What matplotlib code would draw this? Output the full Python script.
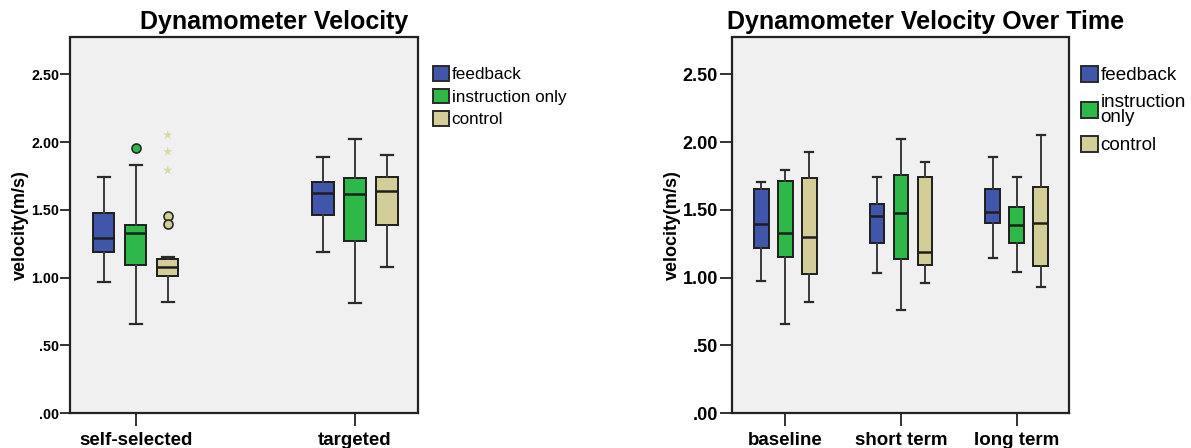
import matplotlib
matplotlib.use("Agg")
import matplotlib.pyplot as plt
from matplotlib.patches import Patch

plt.rcParams['font.family'] = ['Liberation Sans', 'DejaVu Sans']

# ---------------- data ----------------
SERIES = ['feedback', 'instruction only', 'control']
COLORS = ['#3F56AA', '#2EB848', '#D3CE97']

# Left chart: Dynamometer Velocity
L_GROUPS = ['self-selected', 'targeted']
# per series (feedback, instruction only, control), per group
L_WHISLO = [[0.97, 1.19], [0.66, 0.81], [0.82, 1.08]]
L_Q1     = [[1.19, 1.465], [1.09, 1.27], [1.01, 1.39]]
L_MED    = [[1.295, 1.625], [1.33, 1.62], [1.077, 1.637]]
L_Q3     = [[1.477, 1.704], [1.387, 1.738], [1.136, 1.745]]
L_WHISHI = [[1.74, 1.892], [1.83, 2.025], [1.155, 1.902]]
L_OUTLIERS = [[[], []], [[1.956], []], [[1.453, 1.398], []]]
L_EXTREMES = [[[], []], [[], []], [[2.052, 1.929, 1.792], []]]

# Right chart: Dynamometer Velocity Over Time
R_GROUPS = ['baseline', 'short term', 'long term']
R_WHISLO = [[0.973, 1.035, 1.148], [0.66, 0.76, 1.042], [0.823, 0.963, 0.929]]
R_Q1     = [[1.217, 1.254, 1.40], [1.155, 1.14, 1.258], [1.03, 1.092, 1.089]]
R_MED    = [[1.398, 1.457, 1.487], [1.33, 1.477, 1.386], [1.302, 1.192, 1.40]]
R_Q3     = [[1.654, 1.546, 1.654], [1.711, 1.757, 1.52], [1.733, 1.745, 1.667]]
R_WHISHI = [[1.706, 1.745, 1.892], [1.794, 2.025, 1.74], [1.927, 1.853, 2.052]]

Y_TICKS = [0.0, 0.5, 1.0, 1.5, 2.0, 2.5]
Y_TICKLABELS = ['.00', '.50', '1.00', '1.50', '2.00', '2.50']
Y_LABEL = 'velocity(m/s)'

# ---------------- figure ----------------
W, H = 1191, 448
fig = plt.figure(figsize=(W / 100, H / 100), dpi=100)
fig.patch.set_facecolor('white')

ax_bottom_px, ax_top_px = 413.3, 37.5
axL = fig.add_axes([70 / W, (H - ax_bottom_px) / H, 348.3 / W, (ax_bottom_px - ax_top_px) / H])
axR = fig.add_axes([732.3 / W, (H - ax_bottom_px) / H, 337 / W, (ax_bottom_px - ax_top_px) / H])

EDGE = '#1e1e1e'


def draw_boxes(ax, groups, whislo, q1, med, q3, whishi, offset, width,
               outliers=None, extremes=None):
    for s in range(len(SERIES)):
        stats = []
        positions = []
        for g in range(len(groups)):
            st = dict(whislo=whislo[s][g], q1=q1[s][g], med=med[s][g],
                      q3=q3[s][g], whishi=whishi[s][g],
                      fliers=(outliers[s][g] if outliers else []))
            stats.append(st)
            positions.append(g + (s - 1) * offset)
        ax.bxp(stats, positions=positions, widths=width, patch_artist=True,
               manage_ticks=False, capwidths=width * 0.55,
               boxprops=dict(facecolor=COLORS[s], edgecolor=EDGE, linewidth=1.4),
               medianprops=dict(color=EDGE, linewidth=1.8),
               whiskerprops=dict(color='#3a3a3a', linewidth=1.4),
               capprops=dict(color='#2a2a2a', linewidth=1.6),
               flierprops=dict(marker='o', markerfacecolor=COLORS[s],
                               markeredgecolor='#2a2a2a', markersize=6.5,
                               markeredgewidth=1.2, linestyle='none'))
        if extremes:
            for g in range(len(groups)):
                if extremes[s][g]:
                    pos = g + (s - 1) * offset
                    ax.scatter([pos] * len(extremes[s][g]), extremes[s][g],
                               marker='*', s=48, color='#DCD8A6',
                               edgecolors='none', zorder=4)


draw_boxes(axL, L_GROUPS, L_WHISLO, L_Q1, L_MED, L_Q3, L_WHISHI,
           offset=0.146, width=0.097, outliers=L_OUTLIERS, extremes=L_EXTREMES)
draw_boxes(axR, R_GROUPS, R_WHISLO, R_Q1, R_MED, R_Q3, R_WHISHI,
           offset=0.207, width=0.127)

axL.set_xlim(-0.3, 1.289)
axR.set_xlim(-0.458, 2.455)

for ax, groups, ysize, ylen, ypad, title, tx, ylx in [
        (axL, L_GROUPS, 10.3, 7.2, 0.6, 'Dynamometer Velocity', 0.586, -0.141),
        (axR, R_GROUPS, 13.0, 8.6, 1.7, 'Dynamometer Velocity Over Time', 0.574, -0.179)]:
    ax.set_facecolor('#F0F0F0')
    ax.set_ylim(0, 2.771)
    ax.set_yticks(Y_TICKS)
    ax.set_yticklabels(Y_TICKLABELS, fontweight='bold', fontsize=ysize)
    ax.set_xticks(range(len(groups)))
    ax.set_xticklabels(groups, fontweight='bold', fontsize=13.5)
    ax.tick_params(axis='y', length=ylen, width=1.3, pad=ypad, color='#222222',
                   direction='out')
    ax.tick_params(axis='x', length=9.2, width=1.3, pad=4.6, color='#222222',
                   direction='out')
    for sp in ax.spines.values():
        sp.set_color('#222222')
        sp.set_linewidth(1.6)
    ax.text(tx, 1.041, title, transform=ax.transAxes, ha='center', va='center',
            fontsize=18, fontweight='bold')
    ax.text(ylx, 0.5, Y_LABEL, transform=ax.transAxes, rotation=90,
            ha='center', va='center', fontsize=13, fontweight='bold')

# legends
handles = [Patch(facecolor=c, edgecolor='#2a2a2a', linewidth=1.4) for c in COLORS]
legL = axL.legend(handles, SERIES, loc='upper left', bbox_to_anchor=(1.041, 0.924),
                  frameon=False, fontsize=12.3, handlelength=0.98, handleheight=0.94,
                  handletextpad=0.14, labelspacing=0.37, borderpad=0, borderaxespad=0)
R_LEGEND_LABELS = ['feedback', 'instruction\nonly', 'control']
legR = axR.legend(handles, R_LEGEND_LABELS, loc='upper left',
                  bbox_to_anchor=(1.034, 0.925), frameon=False, fontsize=13.6,
                  handlelength=0.93, handleheight=0.93, handletextpad=0.12,
                  labelspacing=0.5, borderpad=0, borderaxespad=0)
for t in legR.get_texts():
    t.set_linespacing(0.9)

fig.savefig('out.png', dpi=100)
